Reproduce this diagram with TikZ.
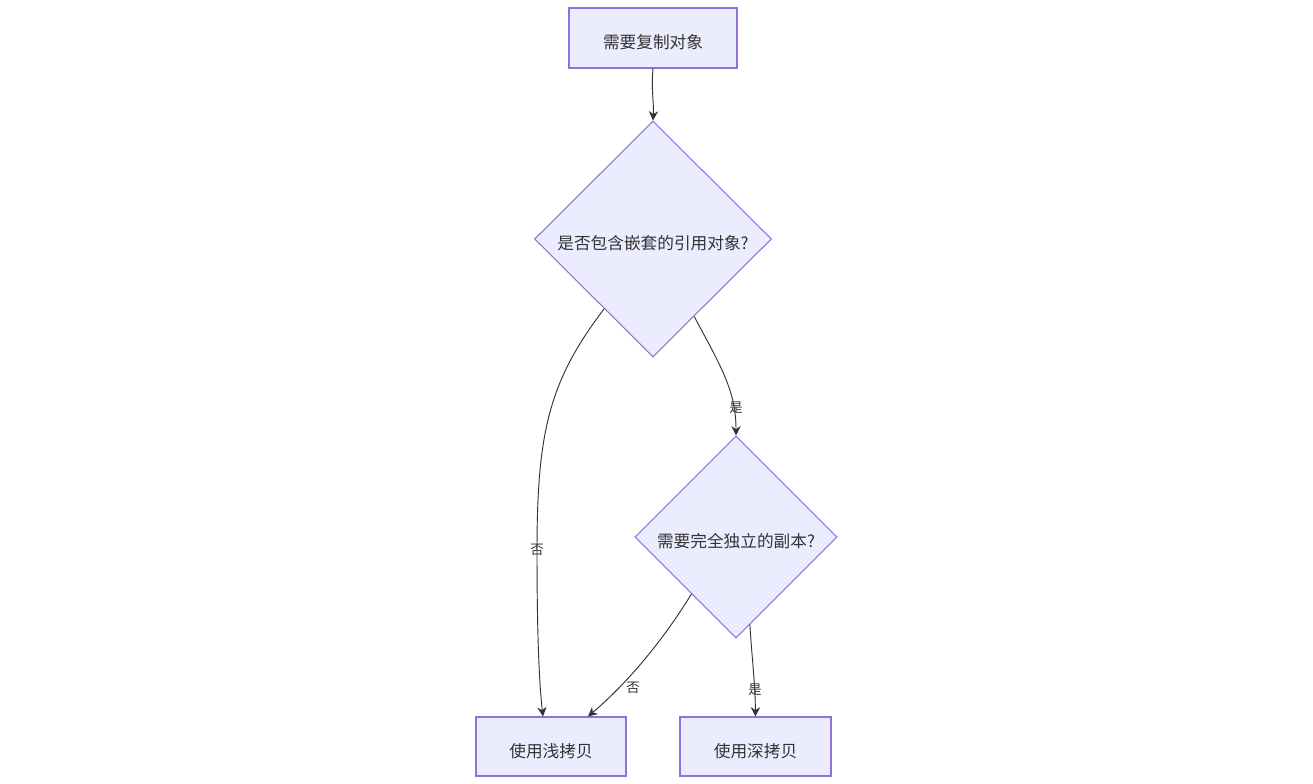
\documentclass[tikz,border=0pt]{standalone}
\usepackage{fontspec}
\setmainfont{Noto Sans CJK SC}
\usetikzlibrary{shapes.geometric,arrows.meta,calc}
\definecolor{lav}{HTML}{ECECFF}
\definecolor{lavline}{HTML}{9370DB}
\definecolor{ink}{HTML}{333333}
\newcommand{\lowtxt}[1]{\raisebox{-8pt}[0pt][0pt]{#1}}
\tikzset{
  box/.style={draw=lavline, fill=lav, line width=0.8pt, rectangle, inner sep=0pt, text=ink, font=\fontsize{12.5pt}{14pt}\selectfont},
  decide/.style={draw=lavline, fill=lav, line width=0.8pt, diamond, aspect=1, inner sep=0pt, text=ink, font=\fontsize{12.5pt}{14pt}\selectfont},
  link/.style={draw=ink, line width=0.7pt, -{Stealth[length=7pt,width=7pt]}},
  lbl/.style={text=ink, font=\fontsize{10pt}{12pt}\selectfont, inner sep=1pt}
}
\begin{document}
\begin{tikzpicture}[x=0.75pt,y=-0.75pt]
\useasboundingbox (0,0) rectangle (1313,784);
\node[box, minimum width=126pt, minimum height=45pt] (start) at (653,38) {\lowtxt{需要复制对象}};
\node[decide, minimum width=177.75pt, minimum height=177pt] (d1) at (653,239) {\lowtxt{是否包含嵌套的引用对象?}};
\node[decide, minimum width=151.5pt, minimum height=151.5pt] (d2) at (736,537) {\lowtxt{需要完全独立的副本?}};
\node[box, minimum width=112.5pt, minimum height=44.25pt] (sh) at (551,746.5) {\lowtxt{使用浅拷贝}};
\node[box, minimum width=113.25pt, minimum height=44.25pt] (dp) at (755.5,746.5) {\lowtxt{使用深拷贝}};

\draw[link] (start.south) .. controls (651,90) and (654,100) .. (d1.north);
\draw[link] (d1.235) .. controls (550,380) and (537,430) .. (537,550) node[lbl] {否}
  .. controls (537,650) and (540,690) .. ($(sh.north)+(-8,0)$);
\draw[link] (d1.298) .. controls (720,365) and (736,390) .. (d2.north);
\node[lbl] (l1) at (736,408) {是};
\draw[link] (d2.232) .. controls (660,645) and (625,685) .. ($(sh.north)+(37,0)$);
\node[lbl] (l2) at (633,688) {否};
\draw[link] (d2.279) .. controls (752,660) and (755,680) .. (dp.north);
\node[lbl] (l3) at (755,690) {是};
\end{tikzpicture}
\end{document}
